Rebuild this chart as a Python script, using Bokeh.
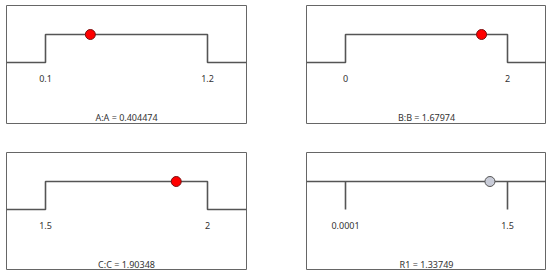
from bokeh.plotting import figure
from bokeh.layouts import column, row
from bokeh.models import Range1d
from bokeh.core.properties import value
from bokeh.embed import file_html
from bokeh.resources import INLINE

# Panel data
names = ["A:A", "B:B", "C:C", "R1"]
lows = [0.1, 0.0, 1.5, 0.0001]
highs = [1.2, 2.0, 2.0, 1.5]
low_labels = ["0.1", "0", "1.5", "0.0001"]
high_labels = ["1.2", "2", "2", "1.5"]
current = [0.404474, 1.67974, 1.90348, 1.33749]
current_labels = ["0.404474", "1.67974", "1.90348", "1.33749"]
kinds = ["step", "step", "step", "ticks"]

LINE = "#555555"
TXT = "#333333"
FONT = value("Noto Sans")
PAD = 39 / 162


def make_panel(i, left_border, top_border, right_border, bottom_border):
    lo, hi = lows[i], highs[i]
    pad = (hi - lo) * PAD
    x0, x1 = lo - pad, hi + pad
    # y: 0 = low level, 1 = high level ; frame height 118, low at 61px, high at 89px from bottom
    p = figure(frame_width=240, frame_height=118, output_backend="svg",
               toolbar_location=None, x_range=Range1d(x0, x1),
               y_range=Range1d(-61 / 28, 57 / 28),
               min_border_left=left_border, min_border_top=top_border,
               min_border_right=right_border, min_border_bottom=bottom_border,
               x_axis_location=None, y_axis_location=None)
    p.grid.visible = False
    p.outline_line_color = "#666666"
    p.outline_line_width = 1
    p.background_fill_color = "white"
    p.border_fill_color = "white"
    if kinds[i] == "step":
        p.line([x0, lo, lo, hi, hi, x1], [0, 0, 1, 1, 0, 0],
               line_color=LINE, line_width=1.6)
        fill = "#ff0000"
        outline = "#7a1010"
    else:
        p.line([x0, x1], [1, 1], line_color=LINE, line_width=1.6)
        p.segment([lo, hi], [1, 1], [lo, hi], [0, 0], line_color=LINE, line_width=1.6)
        fill = "#c9ccd8"
        outline = "#555555"
    p.scatter([current[i]], [1], size=10, fill_color=fill, line_color=outline,
              line_width=1)
    p.text([lo, hi], [-16 / 28, -16 / 28], text=[low_labels[i], high_labels[i]],
           text_align="center", text_baseline="middle", text_font=FONT,
           text_font_size="9px", text_color=TXT)
    p.text([(x0 + x1) / 2], [-55 / 28], text=[f"{names[i]} = {current_labels[i]}"],
           text_align="center", text_baseline="middle", text_font=FONT,
           text_font_size="9px", text_color=TXT)
    return p


p1 = make_panel(0, 6, 5, 60, 29)
p2 = make_panel(1, 0, 5, 0, 29)
p3 = make_panel(2, 6, 0, 60, 0)
p4 = make_panel(3, 0, 0, 0, 0)

layout = column(row(p1, p2), row(p3, p4))

open("out.html", "w").write(file_html(layout, INLINE))
